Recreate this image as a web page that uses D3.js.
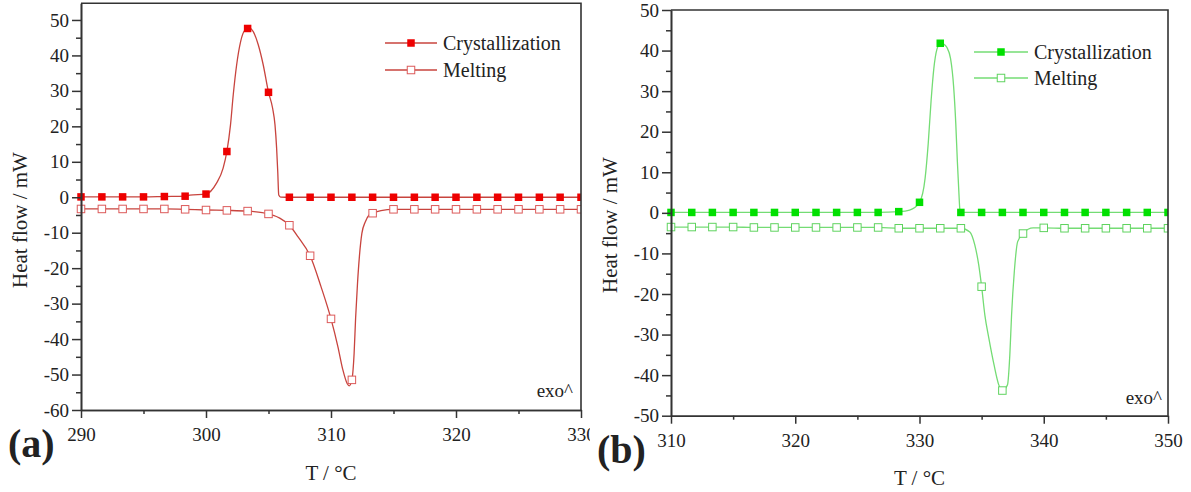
<!DOCTYPE html>
<html>
<head>
<meta charset="utf-8">
<script src="https://cdn.jsdelivr.net/npm/d3@7/dist/d3.min.js"></script>
<style>
  html, body { margin: 0; padding: 0; background: #fff; }
  svg { display: block; }
  text { font-family: "Liberation Serif", "Times New Roman", serif; fill: #222; }
</style>
</head>
<body>
<svg id="chart" width="1191" height="492"></svg>
<script>
// ---- Panel (a): temperatures of plotted symbols (°C) and heat flow (mW)
const tempA = [290.00, 291.67, 293.33, 295.00, 296.67, 298.33, 300.00, 301.67, 303.33,
  305.00, 306.67, 308.33, 310.00, 311.67, 313.33, 315.00, 316.67, 318.33, 320.00,
  321.67, 323.33, 325.00, 326.67, 328.33, 330.00];
const crystA = [0.1, 0.1, 0.1, 0.1, 0.2, 0.3, 0.9, 12.9, 47.6, 29.6, 0, 0, 0, 0, 0,
  0, 0, 0, 0, 0, 0, 0, 0, 0, 0];
const meltA = [-3.3, -3.3, -3.3, -3.3, -3.3, -3.4, -3.6, -3.7, -3.9, -4.7, -7.9,
  -16.5, -34.3, -51.5, -4.5, -3.4, -3.4, -3.4, -3.4, -3.4, -3.4, -3.4, -3.4, -3.4, -3.4];
// additional recorded points of the continuous DSC traces [T, mW]
const crystTraceA = [[298.7, 0.6], [300.83, 3.9], [301.37, 8.2], [301.96, 20.4], [302.18, 28.9],
  [302.45, 37.3], [302.77, 43.9], [303.12, 47.2], [303.5, 47.7], [303.78, 46.7], [304.18, 43.0],
  [304.58, 37.3], [305.33, 25.1], [305.52, 20.4], [305.65, 13.8], [305.74, 7.2],
  [305.82, 0.65], [305.97, 0.05]];
const meltTraceA = [[305.9, -5.9], [307.35, -11.1], [309.2, -25.2], [310.55, -42.1],
  [310.95, -48.7], [311.3, -52.6], [311.45, -53.2], [311.85, -44.0], [311.97, -34.0],
  [312.12, -24.3], [312.27, -16.8], [312.47, -10.2], [312.75, -6.9], [313.05, -5.0],
  [314.0, -3.8]];

// ---- Panel (b)
const tempB = [310.00, 311.67, 313.33, 315.00, 316.67, 318.33, 320.00, 321.67, 323.33,
  325.00, 326.67, 328.33, 330.00, 331.67, 333.33, 335.00, 336.67, 338.33, 340.00,
  341.67, 343.33, 345.00, 346.67, 348.33, 350.00];
const crystB = [0.1, 0.1, 0.1, 0.1, 0.1, 0.1, 0.1, 0.1, 0.1, 0.1, 0.1, 0.3, 2.6, 41.8,
  0.1, 0.1, 0.1, 0.1, 0.1, 0.1, 0.1, 0.1, 0.1, 0.1, 0.1];
const meltB = [-3.5, -3.5, -3.5, -3.5, -3.6, -3.6, -3.6, -3.6, -3.6, -3.6, -3.6, -3.8,
  -3.8, -3.8, -3.8, -18.2, -43.8, -5.1, -3.7, -3.8, -3.8, -3.8, -3.8, -3.8, -3.8];
const crystTraceB = [[329.2, 0.7], [330.45, 8.5], [330.7, 17.0], [330.93, 27.5],
  [331.15, 35.5], [331.4, 40.3], [331.95, 41.6], [332.2, 40.8], [332.5, 38.0],
  [332.75, 31.0], [332.92, 22.0], [333.05, 12.5], [333.17, 5.0], [333.25, 0.8]];
const meltTraceB = [[334.05, -4.7], [334.45, -7.9], [334.77, -12.9], [335.26, -25.2],
  [335.58, -30.9], [336.0, -37.5], [336.38, -42.4], [337.08, -42.4], [337.27, -35.0],
  [337.41, -25.2], [337.63, -14.5], [337.9, -7.1], [339.15, -3.7]];

// ---- Axis ticks and texts
const xMajorA = [290, 300, 310, 320, 330];
const xMinorA = [295, 305, 315, 325];
const yMajorA = [-60, -50, -40, -30, -20, -10, 0, 10, 20, 30, 40, 50];
const yMinorA = [-55, -45, -35, -25, -15, -5, 5, 15, 25, 35, 45];
const xMajorB = [310, 320, 330, 340, 350];
const xMinorB = [315, 325, 335, 345];
const yMajorB = [-50, -40, -30, -20, -10, 0, 10, 20, 30, 40, 50];
const yMinorB = [-45, -35, -25, -15, -5, 5, 15, 25, 35, 45];
const seriesNames = ["Crystallization", "Melting"];
const xTitle = "T / °C";
const yTitle = "Heat flow / mW";
const panelTags = ["(a)", "(b)"];
const exoNote = "exo^";

const svg = d3.select("#chart");
const defs = svg.append("defs");

defs.append("clipPath").attr("id", "clipA")
  .append("rect").attr("x", 0).attr("y", 0).attr("width", 590).attr("height", 492);

function merge(temps, vals, trace) {
  const pts = temps.map((t, i) => [t, vals[i]]).concat(trace);
  return pts.sort((a, b) => a[0] - b[0]);
}

function drawPanel(cfg) {
  const g = svg.append("g");
  if (cfg.clip) g.attr("clip-path", "url(#" + cfg.clip + ")");
  const x = d3.scaleLinear().domain(cfg.xDom).range([cfg.x0, cfg.x1]);
  const y = d3.scaleLinear().domain(cfg.yDom).range([cfg.y1, cfg.y0]);

  // data region: symbols are cut at the right frame
  defs.append("clipPath").attr("id", cfg.id + "-plot")
    .append("rect").attr("x", 0).attr("y", 0).attr("width", cfg.x1).attr("height", cfg.y1);

  const styleAxis = (sel) => {
    sel.select(".domain").attr("stroke", "#333").attr("stroke-width", 1.6);
    sel.selectAll(".tick line").attr("stroke", "#333").attr("stroke-width", 1.5);
    sel.selectAll(".tick text").style("font-size", "19px").attr("fill", "#222")
      .style("font-family", '"Liberation Serif", serif');
  };

  const line = d3.line().x(d => x(d[0])).y(d => y(d[1])).curve(d3.curveMonotoneX);
  const meltPts = merge(cfg.temps, cfg.melt, cfg.meltTrace);
  const crystPts = merge(cfg.temps, cfg.cryst, cfg.crystTrace);

  const plot = g.append("g").attr("clip-path", "url(#" + cfg.id + "-plot)");
  plot.append("path").datum(meltPts).attr("d", line)
    .attr("fill", "none").attr("stroke", cfg.lineColor).attr("stroke-width", 1.3);
  plot.append("path").datum(crystPts).attr("d", line)
    .attr("fill", "none").attr("stroke", cfg.lineColor).attr("stroke-width", 1.3);

  const s = 7.5;
  plot.selectAll(".mOpen").data(cfg.temps.map((t, i) => [t, cfg.melt[i]])).join("rect")
    .attr("x", d => x(d[0]) - s / 2).attr("y", d => y(d[1]) - s / 2)
    .attr("width", s).attr("height", s)
    .attr("fill", "#fff").attr("stroke", cfg.openColor).attr("stroke-width", 1);
  plot.selectAll(".mFill").data(cfg.temps.map((t, i) => [t, cfg.cryst[i]])).join("rect")
    .attr("x", d => x(d[0]) - s / 2).attr("y", d => y(d[1]) - s / 2)
    .attr("width", s).attr("height", s)
    .attr("fill", cfg.fillColor);

  // frame (top and right)
  g.append("path")
    .attr("d", `M${cfg.x0},${cfg.y0}H${cfg.x1}V${cfg.y1}`)
    .attr("fill", "none").attr("stroke", "#333").attr("stroke-width", 1.6);

  g.append("g").attr("transform", `translate(0,${cfg.y1})`)
    .call(d3.axisBottom(x).tickValues(cfg.xMinor).tickSize(4).tickSizeOuter(0).tickFormat(""))
    .call(styleAxis);
  g.append("g").attr("transform", `translate(0,${cfg.y1})`)
    .call(d3.axisBottom(x).tickValues(cfg.xMajor).tickSize(8).tickPadding(10)
      .tickSizeOuter(0).tickFormat(d => String(d)))
    .call(styleAxis);
  g.append("g").attr("transform", `translate(${cfg.x0},0)`)
    .call(d3.axisLeft(y).tickValues(cfg.yMinor).tickSize(5).tickSizeOuter(0).tickFormat(""))
    .call(styleAxis);
  g.append("g").attr("transform", `translate(${cfg.x0},0)`)
    .call(d3.axisLeft(y).tickValues(cfg.yMajor).tickSize(9).tickPadding(3)
      .tickSizeOuter(0).tickFormat(d => String(d)))
    .call(styleAxis);

  // legend
  cfg.legendRows.forEach((ry, i) => {
    g.append("line").attr("x1", cfg.legX1).attr("x2", cfg.legX2).attr("y1", ry).attr("y2", ry)
      .attr("stroke", cfg.lineColor).attr("stroke-width", 1.3);
    const mx = (cfg.legX1 + cfg.legX2) / 2;
    g.append("rect").attr("x", mx - s / 2).attr("y", ry - s / 2).attr("width", s).attr("height", s)
      .attr("fill", i === 0 ? cfg.fillColor : "#fff")
      .attr("stroke", i === 0 ? "none" : cfg.openColor).attr("stroke-width", 1);
    g.append("text").attr("x", cfg.legX2 + 6).attr("y", ry + 7)
      .style("font-size", "20px").text(seriesNames[i]);
  });

  g.append("text").attr("x", cfg.exoX).attr("y", cfg.exoY).attr("text-anchor", "end")
    .style("font-size", "19px").text(exoNote);

  g.append("text").attr("x", (cfg.x0 + cfg.x1) / 2).attr("y", cfg.xTitleY)
    .attr("text-anchor", "middle").style("font-size", "21px").text(xTitle);

  g.append("text")
    .attr("transform", `translate(${cfg.yTitleX},${cfg.yTitleY}) rotate(-90)`)
    .attr("text-anchor", "middle").style("font-size", "21px").text(yTitle);
}

drawPanel({
  id: "pa", clip: "clipA",
  x0: 81, x1: 581, y0: 3.3, y1: 410, xDom: [290, 330], yDom: [-60, 54.7],
  xMajor: xMajorA, xMinor: xMinorA, yMajor: yMajorA, yMinor: yMinorA,
  temps: tempA, cryst: crystA, melt: meltA, crystTrace: crystTraceA, meltTrace: meltTraceA,
  lineColor: "#c8443e", fillColor: "#ee0000", openColor: "#dc5a5a",
  legendRows: [43, 70], legX1: 385, legX2: 437,
  exoX: 573, exoY: 397, xTitleY: 480, yTitleX: 27, yTitleY: 220
});

drawPanel({
  id: "pb",
  x0: 671, x1: 1168, y0: 10, y1: 415.7, xDom: [310, 350], yDom: [-50, 50],
  xMajor: xMajorB, xMinor: xMinorB, yMajor: yMajorB, yMinor: yMinorB,
  temps: tempB, cryst: crystB, melt: meltB, crystTrace: crystTraceB, meltTrace: meltTraceB,
  lineColor: "#74dc74", fillColor: "#00e000", openColor: "#5fd35f",
  legendRows: [52, 78], legX1: 974, legX2: 1028,
  exoX: 1162, exoY: 404, xTitleY: 485, yTitleX: 617, yTitleY: 225
});

// panel tags
svg.append("text").attr("x", 8).attr("y", 457)
  .style("font-size", "40px").style("font-weight", "bold").attr("fill", "#111").text(panelTags[0]);
svg.append("text").attr("x", 597).attr("y", 463)
  .style("font-size", "40px").style("font-weight", "bold").attr("fill", "#111").text(panelTags[1]);
</script>
</body>
</html>
